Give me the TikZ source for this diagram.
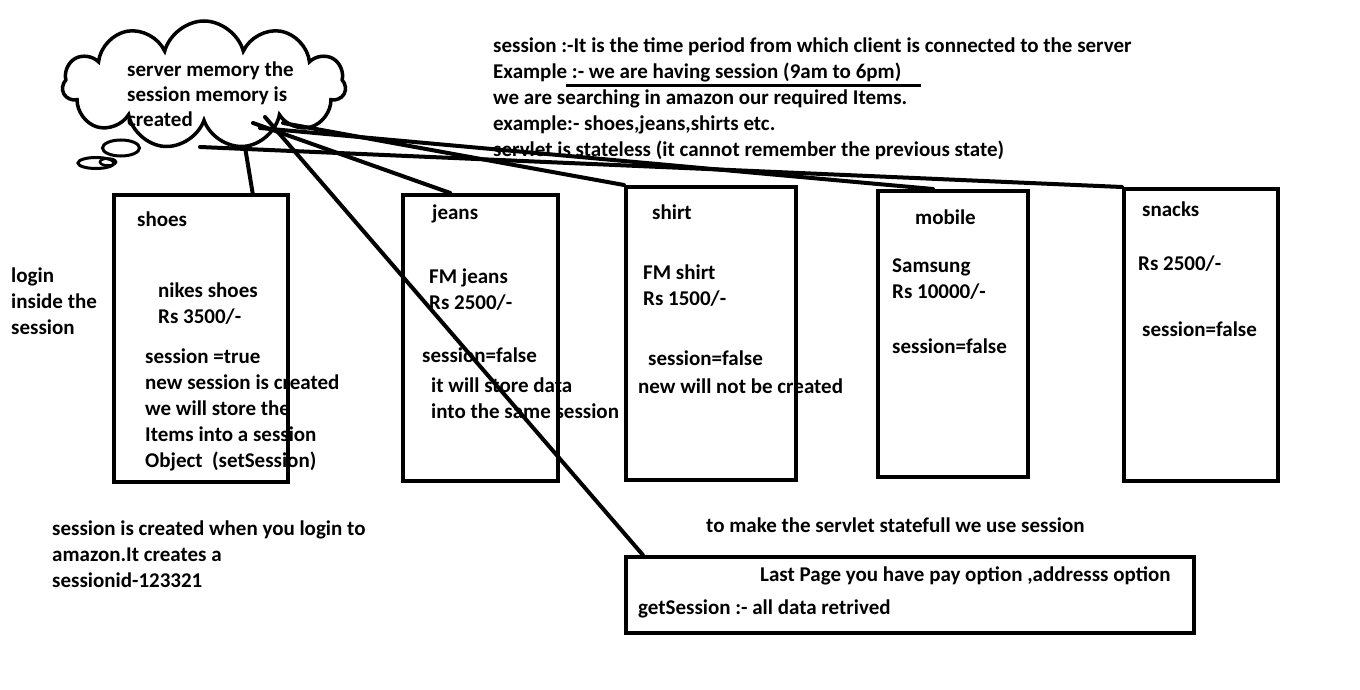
\documentclass[tikz,border=0pt]{standalone}
\usepackage{fontspec}
\setmainfont{Carlito}
\usetikzlibrary{shapes.symbols,shapes.geometric,calc}

\begin{document}
\begin{tikzpicture}[x=1pt,y=-1pt,
	every node/.style={font=\bfseries\fontsize{21}{26}\selectfont,inner sep=0pt},
	txt/.style={anchor=base west,align=left},
	itembox/.style={draw,line width=4pt},
	link/.style={line width=4pt,line cap=round}]
	\useasboundingbox (0,0) rectangle (1360,690);
	% server memory cloud
	\node[cloud,draw,line width=3.5pt,cloud puffs=11,aspect=2.3,minimum width=283,minimum height=128] (mem) at (204,85) {};
	\node[ellipse,draw,line width=3pt,minimum width=37,minimum height=16] (bub1) at (121,148) {};
	\node[ellipse,draw,line width=3pt,minimum width=36,minimum height=11] (bub2) at (96,163) {};
	\node[ellipse,draw,line width=2.5pt,minimum width=16,minimum height=7] (bub3) at (108,162) {};
	\node[txt,font=\bfseries\fontsize{21}{25}\selectfont] (memtxt) at (127,127) {server memory the\\session memory is\\created};
	% notes (anchored at the last line)
	\node[txt] (def) at (493,157) {session :-It is the time period from which client is connected to the server\\Example :- we are having session (9am to 6pm)\\we are searching in amazon our required Items.\\example:- shoes,jeans,shirts etc.\\servlet is stateless (it cannot remember the previous state)};
	\draw[line width=3pt] (566,86) -- (921,86);
	\node[txt] (login) at (11,334) {login\\inside the\\session};
	\node[txt] (sid) at (52,587) {session is created when you login to\\amazon.It creates a\\sessionid-123321};
	\node[txt] (stateful) at (706,532) {to make the servlet statefull we use session};
	% item boxes
	\node[itembox,minimum width=174,minimum height=287] (shoes) at (201,338.5) {};
	\node[itembox,minimum width=155,minimum height=286] (jeans) at (480.5,338) {};
	\node[itembox,minimum width=170,minimum height=293] (shirt) at (711,333.5) {};
	\node[itembox,minimum width=150,minimum height=286] (mobile) at (953,334) {};
	\node[itembox,minimum width=154,minimum height=292] (snacks) at (1201,335) {};
	\node[itembox,minimum width=568,minimum height=76] (pay) at (910,595) {};
	% box texts
	\node[txt] (shoes1) at (137,226) {shoes};
	\node[txt] (shoes2) at (158,323) {nikes shoes\\Rs 3500/-};
	\node[txt] (shoes3) at (145,467) {session =true\\new session is created\\we will store the\\Items into a session\\Object~~(setSession)};
	\node[txt] (jeans1) at (432,219) {jeans};
	\node[txt] (jeans2) at (429,309) {FM jeans\\Rs 2500/-};
	\node[txt] (jeans3) at (422,362) {session=false};
	\node[txt] (jeans4) at (431,418) {it will store data\\into the same session};
	\node[txt] (shirt1) at (652,219) {shirt};
	\node[txt] (shirt2) at (643,305) {FM shirt\\Rs 1500/-};
	\node[txt] (shirt3) at (648,365) {session=false};
	\node[txt] (shirt4) at (638,393) {new will not be created};
	\node[txt] (mobile1) at (915,224) {mobile};
	\node[txt] (mobile2) at (892,298) {Samsung\\Rs 10000/-};
	\node[txt] (mobile3) at (892,353) {session=false};
	\node[txt] (snacks1) at (1142,216) {snacks};
	\node[txt] (snacks2) at (1138,270) {Rs 2500/-};
	\node[txt] (snacks3) at (1142,336) {session=false};
	\node[txt] (pay1) at (760,581) {Last Page you have pay option ,addresss option};
	\node[txt] (pay2) at (638,614) {getSession :- all data retrived};
	% links from the cloud
	\coordinate (ms) at (245,147);
	\coordinate (mj) at (253,123);
	\coordinate (mt) at (283,123);
	\coordinate (mm) at (260,128);
	\coordinate (mn) at (200,147);
	\coordinate (mp) at (265,117);
	\draw[link] (ms) -- ($(shoes.north west)!.79!(shoes.north east)$);
	\draw[link] (mj) -- ($(jeans.north west)!.31!(jeans.north east)$);
	\draw[link] (mt) -- (shirt.north west);
	\draw[link] (mm) -- ($(mobile.north west)!.37!(mobile.north east)$);
	\draw[link] (mn) -- (snacks.north west);
	\draw[link] (mp) -- ($(pay.north west)!.033!(pay.north east)$);
\end{tikzpicture}
\end{document}
